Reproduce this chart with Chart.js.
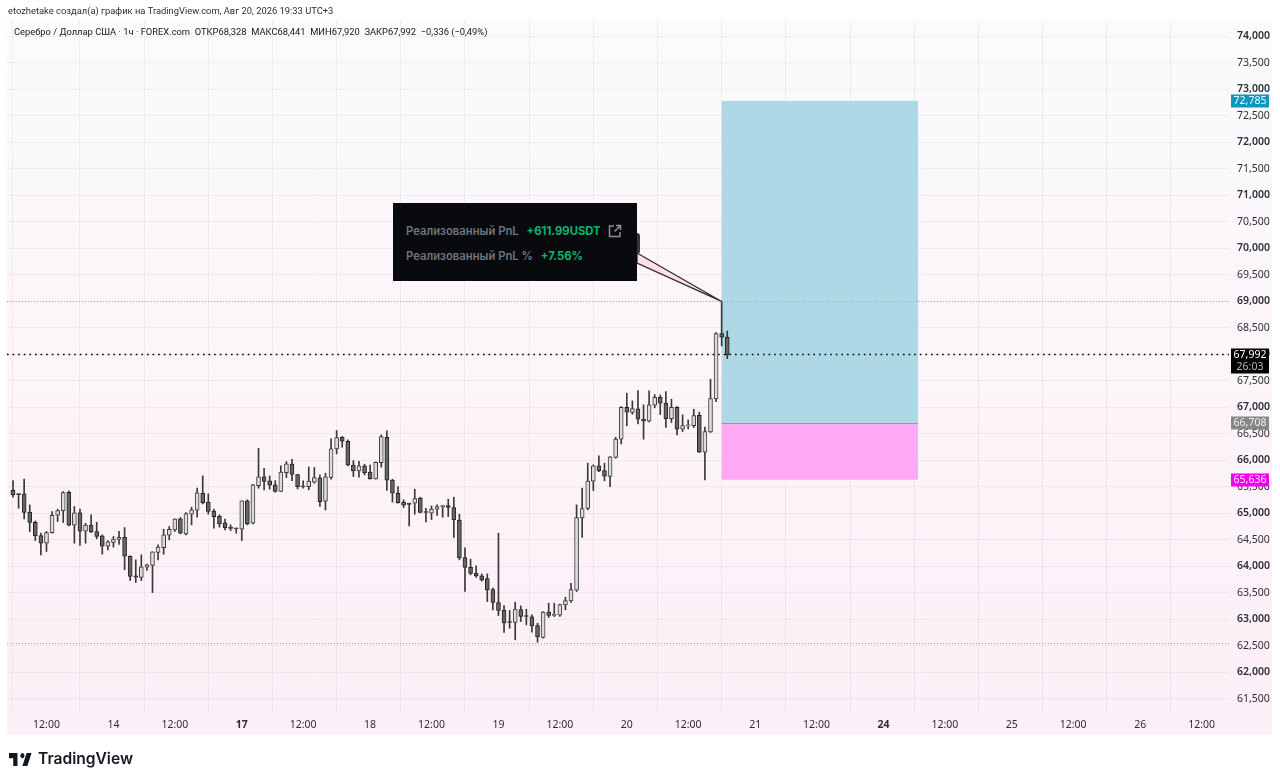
<!DOCTYPE html>
<html lang="ru"><head><meta charset="utf-8">
<script src="https://cdn.jsdelivr.net/npm/chart.js@4"></script>
<style>
html,body{margin:0;padding:0;background:#fff;width:1280px;height:783px;overflow:hidden;font-family:"Noto Sans",sans-serif}
canvas{position:absolute;left:0;top:0}
.t{position:absolute;white-space:nowrap;color:#2a2e39}
#h1{left:8px;top:4px;font-family:Roboto,sans-serif;font-size:9.37px;line-height:14px}
#h2{left:14px;top:25px;font-family:Roboto,sans-serif;font-size:9.35px;line-height:14px;color:#131722}
#nub{position:absolute;left:630px;top:233px;width:10px;height:21px;background:#3a3338;border-radius:3px}
#pnl{position:absolute;left:393px;top:203px;width:244px;height:78px;background:#090a0e}
#pnl div{position:absolute;white-space:nowrap;font-family:Inter,sans-serif;font-weight:600;font-size:11.3px;line-height:14px;color:#70757c}
#pnl b{color:#0bb46f;font-weight:700;margin-left:5px}
#logoText{left:38px;top:749px;font-family:Inter,sans-serif;font-weight:600;font-size:15.6px;line-height:20px;color:#131722}
</style></head><body>
<canvas id="c" width="1280" height="783"></canvas>
<div class="t" id="h1">etozhetake создал(а) график на TradingView.com, Авг 20, 2026 19:33 UTC+3</div>
<div class="t" id="h2">Серебро / Доллар США · 1ч · FOREX.com &nbsp;ОТКР68,328 &nbsp;МАКС68,441 &nbsp;МИН67,920 &nbsp;ЗАКР67,992 &nbsp;−0,336 (−0,49%)</div>
<div id="nub"></div>
<div id="pnl">
<div style="left:13px;top:21px">Реализованный PnL <b>+611.99USDT</b></div>
<div style="left:13px;top:46px">Реализованный PnL % <b>+7.56%</b></div>
<svg style="position:absolute;left:215px;top:21px" width="14" height="14" viewBox="0 0 14 14" fill="none" stroke="#8a8f96" stroke-width="1.5"><path d="M6 2H1.5v10.5H12V8M8 1.5h4.5V6M12.5 1.5L6.5 7.5"/></svg>
</div>
<svg style="position:absolute;left:9px;top:753px" width="24" height="13" viewBox="2 6 34 15" preserveAspectRatio="none" fill="#131722"><path d="M14 6H2v6h6v9h6V6zm14 15h-7l6-15h7l-6 15zm-7-9a3 3 0 1 0 0-6 3 3 0 0 0 0 6z"/></svg>
<div class="t" id="logoText">TradingView</div>
<script>
const opens=[65438,65369,65369,65023,64834,64583,64438,64639,64966,65054,
65400,64778,65010,64664,64778,64658,64576,64381,64451,64507,
64551,64193,63822,63790,63985,64017,64262,64356,64589,64690,
64897,64614,64985,65061,65381,65212,65042,64947,64822,64740,
64721,64702,65237,64815,65526,65690,65614,65539,65413,65771,
65929,65734,65520,65507,65589,65671,65230,65677,66218,66438,
66362,65910,65803,65897,65778,65652,65960,66438,65627,65381,
65212,65193,65193,65287,65029,65004,65080,65124,65149,65111,
64872,64168,63985,63872,63822,63771,63564,63319,63174,62960,
62941,63187,63067,63048,62885,62658,63136,63073,63080,63275,
63350,63551,64916,65092,65608,65897,65809,65696,66055,66401,
67004,66904,66973,66778,66740,67042,67193,67080,66790,67004,
66589,66652,66658,66853,66155,66539,67161,68394,68328];
const closes=[65350,65356,65017,64828,64576,64438,64639,64966,65054,65394,
64778,65010,64664,64778,64652,64564,64381,64463,64514,64551,
64193,63809,63797,63991,64029,64275,64363,64595,64702,64891,
64627,64998,65067,65388,65199,65036,64941,64803,64727,64715,
64709,65237,64803,65539,65690,65602,65532,65413,65778,65935,
65734,65507,65501,65608,65677,65224,65690,66218,66432,66362,
65910,65803,65897,65771,65652,65966,66451,65627,65381,65205,
65155,65168,65281,65017,65017,65080,65130,65149,65111,64878,
64161,63979,63866,63822,63746,63558,63319,63168,62935,62941,
63193,63054,63054,62878,62671,63136,63073,63098,63281,63356,
63564,64922,65092,65608,65897,65803,65702,66067,66401,67004,
66910,66979,66778,66740,67048,67193,67080,66790,67004,66589,
66658,66665,66847,66155,66545,67168,68394,68325,67992];
const highs=[65620,65369,65646,65161,64859,64627,64658,65036,65080,65413,
65425,65130,65080,64815,64973,64834,64595,64488,64564,64664,
64734,64199,64124,64218,64042,64275,64407,64702,64753,64897,
64922,65017,65117,65476,65708,65369,65080,64973,64891,64784,
64721,65237,65256,65551,66230,65853,65708,65620,65897,65979,
66023,65740,65614,65878,65866,65727,65759,66407,66564,66451,
66388,65998,65985,65929,65910,65973,66482,66557,65646,65507,
65256,65193,65457,65306,65098,65142,65161,65155,65268,65306,
64985,64350,64136,64010,63859,63859,63589,64627,63262,63168,
63325,63256,63193,63086,62929,63149,63306,63306,63287,63419,
63683,65161,65476,65948,65916,66086,65948,66073,66438,67017,
67268,67124,67319,67048,67312,67243,67237,67300,67155,67017,
66860,66765,66967,66910,66627,67533,68413,69000,68441];
const lows=[65306,65098,64897,64658,64488,64218,64281,64627,64847,64828,
64765,64438,64394,64438,64639,64520,64231,64312,64363,64413,
63935,63734,63696,63734,63922,63507,64124,64231,64501,64658,
64614,64595,64784,64929,65180,64985,64721,64740,64690,64677,
64627,64488,64784,64803,65476,65444,65457,65400,65413,65677,
65620,65463,65476,65444,65570,65130,65067,65646,66124,66249,
65897,65696,65683,65727,65646,65646,65872,65432,65212,65193,
65111,64765,64985,65010,64841,64885,64960,64929,64941,64545,
64124,63526,63841,63790,63721,63337,63180,63073,62753,62834,
62614,62960,62897,62759,62570,62646,63036,63054,63054,63180,
63319,63526,64545,65067,65432,65790,65614,65507,66042,66312,
66652,66872,66690,66401,66728,66992,66866,66621,66715,66482,
66545,66595,66621,66149,65633,66526,67111,68161,67920];

const timeTickIndex=[6,18,29,41,52,64,75,87,98,110,121,133,144,156,167,179,190,202,213];
const timeTickLabel=['12:00','14','12:00','17','12:00','18','12:00','19','12:00','20','12:00','21','12:00','24','12:00','25','12:00','26','12:00'];
const boldTimeLabels=['17','24'];
const priceTicks=[74000,73500,73000,72500,72000,71500,71000,70500,70000,69500,69000,68500,68000,67500,67000,66500,66000,65500,65000,64500,64000,63500,63000,62500,62000,61500];

const lastClose=67992, countdown='26:03';
const targetPrice=72785, entryPrice=66708, stopPrice=65636;
const positionStartIndex=127, positionEndIndex=162.2;
const swingHigh=69000, swingLow=62560;

const PANE={l:7,r:1272,t:20,b:735};
const idx=opens.map((_,i)=>i);
const isUp=i=>closes[i]>=opens[i];

const overlay={
  id:'overlay',
  beforeDraw(ch){
    const c=ch.ctx,g=c.createLinearGradient(0,PANE.t,0,PANE.b);
    g.addColorStop(0,'#fbfbfb');g.addColorStop(.35,'#fbf6fa');g.addColorStop(1,'#fdeff7');
    c.save();c.fillStyle=g;c.fillRect(PANE.l,PANE.t,PANE.r-PANE.l,PANE.b-PANE.t);c.restore();
  },
  beforeDatasetsDraw(ch){
    const c=ch.ctx,x=ch.scales.x,y=ch.scales.y,a=ch.chartArea;
    const x0=x.getPixelForValue(positionStartIndex),x1=x.getPixelForValue(positionEndIndex);
    const yT=y.getPixelForValue(targetPrice),yE=y.getPixelForValue(entryPrice),yS=y.getPixelForValue(stopPrice);
    c.save();
    c.fillStyle='#aed8e6';c.fillRect(x0,yT,x1-x0,yE-yT);
    c.fillStyle='#ffa8f4';c.fillRect(x0,yE,x1-x0,yS-yE);
    c.strokeStyle='#8f9aa0';c.lineWidth=1;c.beginPath();c.moveTo(x0,Math.round(yE)+.5);c.lineTo(x1,Math.round(yE)+.5);c.stroke();
    c.strokeStyle='#a5a5a5';c.lineWidth=1;c.setLineDash([1,2]);
    [swingHigh,swingLow].forEach(v=>{const p=Math.round(y.getPixelForValue(v))+.5;c.beginPath();c.moveTo(a.left,p);c.lineTo(a.right,p);c.stroke();});
    c.restore();
  },
  afterDatasetsDraw(ch){
    const c=ch.ctx,x=ch.scales.x,y=ch.scales.y,a=ch.chartArea;
    c.save();
    c.strokeStyle='#000';c.lineWidth=1.6;c.setLineDash([1.6,4]);
    const p=Math.round(y.getPixelForValue(lastClose))-.5;
    c.beginPath();c.moveTo(a.left,p);c.lineTo(a.right,p);c.stroke();
    c.setLineDash([]);
    const tx=x.getPixelForValue(positionStartIndex),ty=y.getPixelForValue(swingHigh);
    c.beginPath();c.moveTo(637,253);c.lineTo(tx,ty);c.lineTo(637,263);c.closePath();
    c.fillStyle='#fbdfe9';c.fill();c.strokeStyle='#332a30';c.lineWidth=1.3;c.stroke();
    c.restore();
  },
  afterDraw(ch){
    const c=ch.ctx,y=ch.scales.y;
    const fmt=v=>v.toLocaleString('en-US');
    const badge=(v,bg,fg)=>{const m=Math.round(y.getPixelForValue(v));
      c.fillStyle=bg;c.fillRect(1231,m-6.5,38,13);
      c.fillStyle=fg;c.font='10.5px "Noto Sans"';c.textAlign='center';c.textBaseline='middle';c.fillText(fmt(v),1250,m);};
    c.save();
    badge(targetPrice,'#0f97bf','#e8f6fb');
    badge(entryPrice,'#878787','#f0f0f0');
    badge(stopPrice,'#f300f0','#ffe9ff');
    const m=Math.round(y.getPixelForValue(lastClose));
    c.fillStyle='#000';c.fillRect(1231,m-6.5,38,25);
    c.textAlign='center';c.textBaseline='middle';c.font='10.5px "Noto Sans"';
    c.fillStyle='#fff';c.fillText(fmt(lastClose),1250,m);
    c.fillStyle='#b8b8b8';c.fillText(countdown,1250,m+12);
    c.restore();
  }
};

new Chart(document.getElementById('c'),{
  type:'bar',
  data:{datasets:[
    {label:'body',order:1,data:idx.map(i=>({x:i,y:[opens[i],closes[i]]})),barThickness:4,minBarLength:1,
     backgroundColor:idx.map(i=>isUp(i)?'#dcdcdc':'#666666'),
     borderColor:idx.map(i=>isUp(i)?'#3c3c3c':'#222222'),borderWidth:1,borderSkipped:false},
    {label:'wick',order:2,data:idx.map(i=>({x:i,y:[lows[i],highs[i]]})),barThickness:1,
     backgroundColor:'#383838',borderWidth:0}
  ]},
  plugins:[overlay],
  options:{
    responsive:false,animation:false,devicePixelRatio:1,
    layout:{padding:{left:7,top:20,right:0,bottom:0}},
    plugins:{legend:{display:false},tooltip:{enabled:false},title:{display:false}},
    datasets:{bar:{grouped:false}},
    scales:{
      x:{type:'linear',min:-1.075,max:217.92,offset:false,
        afterBuildTicks:s=>{s.ticks=timeTickIndex.map(v=>({value:v}));},
        afterFit:s=>{s.height=71;},
        grid:{color:'rgba(60,40,60,0.06)',drawTicks:false},border:{display:false},
        ticks:{autoSkip:false,maxRotation:0,padding:7,color:'#2a2e39',
          callback:v=>timeTickLabel[timeTickIndex.indexOf(v)],
          font:ctx=>({family:'"Noto Sans"',size:10.5,weight:boldTimeLabels.includes(timeTickLabel[ctx.index])?'bold':'normal'})}},
      y:{type:'linear',position:'right',min:61252.6,max:74311.3,
        afterBuildTicks:s=>{s.ticks=priceTicks.map(v=>({value:v}));},
        afterFit:s=>{s.width=51;},
        grid:{color:'rgba(60,40,60,0.06)',drawTicks:false},border:{display:false},
        ticks:{autoSkip:false,padding:8,color:'#2a2e39',
          callback:v=>v.toLocaleString('en-US'),
          font:ctx=>({family:'"Noto Sans"',size:10.5,weight:priceTicks[ctx.index]%1000===0?'600':'normal'})}}
    }
  }
});
</script>
</body></html>
